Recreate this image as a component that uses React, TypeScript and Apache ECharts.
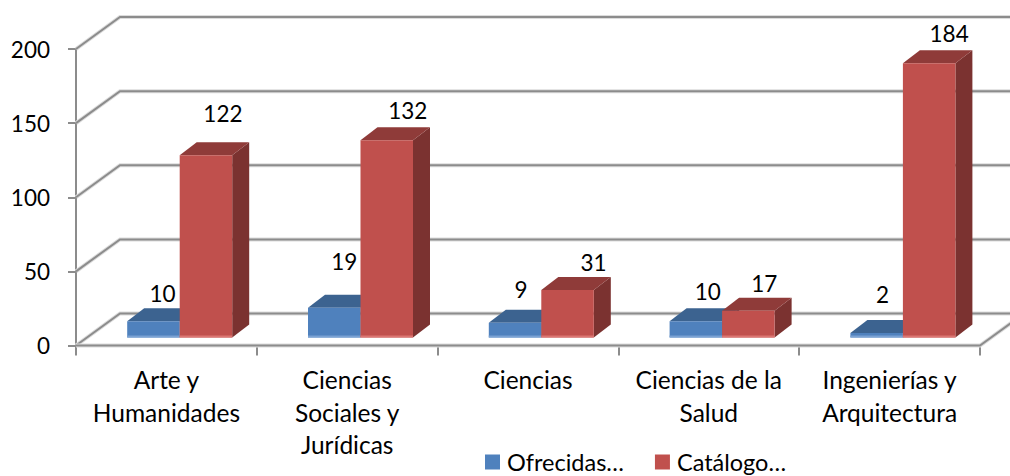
import React, { useEffect, useRef } from "react";
import * as echarts from "echarts";

const categories = ["Arte y\nHumanidades", "Ciencias\nSociales y\nJurídicas", "Ciencias", "Ciencias de la\nSalud", "Ingenierías y\nArquitectura"];
const ofrecidas = [10, 19, 9, 10, 2];
const catalogo = [122, 132, 31, 17, 184];
const gridTicks = [0, 50, 100, 150, 200];
const ofrecidasLabelDx = [9, 10, 6, 12, 6];
const ofrecidasLabelDy = [-28, -46, -33, -30, -39];
const catalogoLabelDx = [17, 21, 26, 16, 20];
const catalogoLabelDy = [-42, -30, -28, -27, -30];

const FONT = "Lato";
const FS = 22.5;
const FS_TEXT = 24.5;
const DEPTH_X = 44, DEPTH_Y = -32;
const BAR_W = 52.5, BAR_SHIFT_X = 13.3, BAR_SHIFT_Y = -8, BAR_TOP_SHIFT_Y = -9.5, BAR_DX = 17, BAR_DY = -13;

function barRenderer(side: 0 | 1, colors: any, labelDx: number[], labelDy: number[]) {
  return (params: any, api: any) => {
    const idx = api.value(0), v = api.value(1);
    const top = api.coord([idx, v]);
    const base = api.coord([idx, 0]);
    const x0 = top[0] + BAR_SHIFT_X + (side === 0 ? -BAR_W : 0);
    const x1 = x0 + BAR_W;
    const y0 = top[1] + BAR_TOP_SHIFT_Y;
    const y1 = base[1] + BAR_SHIFT_Y;
    const poly = (pts: number[][], fill: string) => ({ type: "polygon", shape: { points: pts }, style: { fill } });
    return {
      type: "group",
      children: [
        poly([[x1, y0], [x1 + BAR_DX, y0 + BAR_DY], [x1 + BAR_DX, y1 + BAR_DY], [x1, y1]], colors.side),
        poly([[x0, y0], [x0 + BAR_DX, y0 + BAR_DY], [x1 + BAR_DX, y0 + BAR_DY], [x1, y0]], colors.top),
        { type: "rect", shape: { x: x0, y: y0, width: BAR_W, height: y1 - y0 }, style: { fill: colors.front } },
        { type: "rect", shape: { x: x0, y: y1 - 2, width: BAR_W, height: 2 }, style: { fill: colors.strip } },
        {
          type: "text",
          style: {
            text: String(v),
            x: (x0 + x1) / 2 + labelDx[params.dataIndex],
            y: y0 + labelDy[params.dataIndex],
            align: "center",
            verticalAlign: "middle",
            fontFamily: FONT,
            fontSize: FS,
            fill: "#000",
          },
        },
      ],
    };
  };
}

function wallRenderer(params: any, api: any) {
  const v = api.value(1);
  const p = api.coord([0, v]);
  const cs = params.coordSys;
  const left = cs.x;
  const right = cs.x + cs.width;
  const y = p[1];
  const line = (pts: number[][]) => [
    { type: "polyline", shape: { points: pts }, style: { fill: "none", stroke: "#DCDCDC", lineWidth: 4 } },
    { type: "polyline", shape: { points: pts }, style: { fill: "none", stroke: "#8C8C8C", lineWidth: 2 } },
  ];
  let children = line([[left, y], [left + DEPTH_X, y + DEPTH_Y], [right + DEPTH_X + 60, y + DEPTH_Y]]);
  if (v === 0) {
    children = children.concat(line([[left, y], [right, y], [right + DEPTH_X, y + DEPTH_Y]]));
  }
  return { type: "group", children };
}

export default function App() {
  const ref = useRef<HTMLDivElement>(null);
  useEffect(() => {
    document.body.style.margin = "0";
    const chart = echarts.init(ref.current!, null, { renderer: "svg" });
    chart.setOption({
      animation: false,
      backgroundColor: "#fff",
      textStyle: { fontFamily: FONT },
      grid: { left: 76, right: 30, top: 49, bottom: 130.5, containLabel: false },
      legend: {
        data: [
          { name: "Ofrecidas…", icon: "rect", itemStyle: { color: "#4F81BD" } },
          { name: "Catálogo…", icon: "rect", itemStyle: { color: "#C0504D" } },
        ],
        left: 485,
        top: 450,
        itemWidth: 15,
        itemHeight: 15,
        itemGap: 31,
        padding: 0,
        textStyle: { fontFamily: FONT, fontSize: 23.5, lineHeight: 20, color: "#000", padding: [0, 0, 0, 2] },
        selectedMode: false,
      },
      xAxis: {
        type: "category",
        data: categories,
        boundaryGap: true,
        axisLine: { show: false },
        axisTick: { show: true, alignWithLabel: false, length: 10, lineStyle: { color: "#8C8C8C", width: 2 } },
        axisLabel: { interval: 0, color: "#000", fontFamily: FONT, fontSize: FS_TEXT, lineHeight: 32.5, margin: 18 },
        splitLine: { show: false },
      },
      yAxis: {
        type: "value",
        min: 0,
        max: 200,
        interval: 50,
        axisLine: { show: true, lineStyle: { color: "#8C8C8C", width: 2 } },
        axisTick: { show: true, length: 8, lineStyle: { color: "#8C8C8C", width: 2 } },
        axisLabel: { color: "#000", fontFamily: FONT, fontSize: FS, margin: 26, padding: [4, 0, 0, 0] },
        splitLine: { show: false },
      },
      series: [
        {
          type: "custom",
          name: "walls",
          clip: false,
          silent: true,
          z: 1,
          renderItem: wallRenderer,
          encode: { x: 0, y: 1 },
          data: gridTicks.map((t) => [0, t]),
        },
        {
          type: "custom",
          name: "Ofrecidas…",
          clip: false,
          z: 3,
          itemStyle: { color: "#4F81BD" },
          renderItem: barRenderer(0, { front: "#4F81BD", top: "#3C6390", side: "#37587F", strip: "#7BA2D3" }, ofrecidasLabelDx, ofrecidasLabelDy),
          encode: { x: 0, y: 1 },
          data: ofrecidas.map((v, i) => [i, v]),
        },
        {
          type: "custom",
          name: "Catálogo…",
          clip: false,
          z: 4,
          itemStyle: { color: "#C0504D" },
          renderItem: barRenderer(1, { front: "#C0504D", top: "#8F3B39", side: "#7B3230", strip: "#DB7673" }, catalogoLabelDx, catalogoLabelDy),
          encode: { x: 0, y: 1 },
          data: catalogo.map((v, i) => [i, v]),
        },
      ],
    });
    return () => chart.dispose();
  }, []);
  return <div ref={ref} style={{ width: 1010, height: 476 }} />;
}
